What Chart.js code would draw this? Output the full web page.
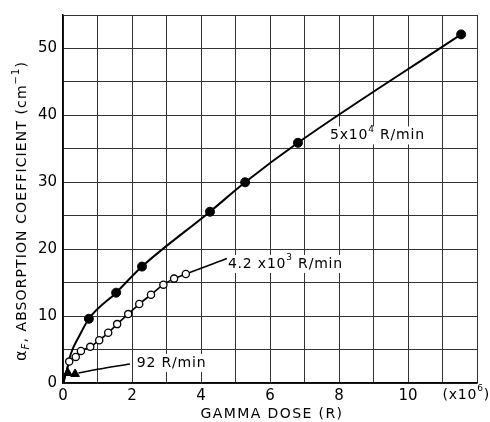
<!DOCTYPE html>
<html>
<head>
<meta charset="utf-8">
<script src="https://cdn.jsdelivr.net/npm/chart.js@4.4.1/dist/chart.umd.min.js"></script>
<style>
html, body { margin: 0; padding: 0; background: #fff; }
#wrap { width: 490px; height: 422px; }
</style>
</head>
<body>
<div id="wrap"><canvas id="myChart" width="490" height="422"></canvas></div>
<script>
// 5x10^4 R/min, filled circles
const doseHigh = [0.75, 1.54, 2.29, 4.26, 5.28, 6.81, 11.54];
const alphaHigh = [9.6, 13.5, 17.4, 25.6, 30.0, 35.9, 52.1];
// 4.2x10^3 R/min, open circles
const doseMid = [0.18, 0.37, 0.52, 0.79, 1.05, 1.31, 1.57, 1.89, 2.21, 2.55, 2.91, 3.22, 3.56];
const alphaMid = [3.2, 3.9, 4.8, 5.4, 6.4, 7.5, 8.8, 10.3, 11.8, 13.2, 14.7, 15.6, 16.3];
// 92 R/min, triangles
const doseLow = [0.14, 0.35];
const alphaLow = [1.5, 1.35];

// hand drawn curves
const curveHighX = [0, 0.04, 0.11, 0.23, 0.49, 0.75, 1.54, 2.29, 4.26, 5.28, 6.81, 11.54];
const curveHighY = [0, 0.8, 1.9, 4.4, 7.2, 9.6, 13.5, 17.4, 25.6, 30.0, 35.9, 52.1];
const curveMidX = [0.02, 0.18, 0.37, 0.52, 0.79, 1.05, 1.31, 1.57, 1.89, 2.21, 2.55, 2.91, 3.22, 3.56, 4.75];
const curveMidY = [0, 3.2, 3.9, 4.8, 5.4, 6.4, 7.5, 8.8, 10.3, 11.8, 13.2, 14.7, 15.6, 16.3, 18.6];
const leaderLowX = [0.45, 1.0, 1.94];
const leaderLowY = [1.5, 2.05, 2.85];

const xTicks = [0, 2, 4, 6, 8, 10];
const yTicks = [0, 10, 20, 30, 40, 50];

const pts = (xs, ys) => xs.map((x, i) => ({ x: x, y: ys[i] }));
const FONT = 'DejaVu Sans';

// text labels placed in data units
const notes = [
    { text: '5x10', sup: '4', rest: ' R/min', x: 7.74, y: 37.0 },
    { text: '4.2 x10', sup: '3', rest: ' R/min', x: 4.78, y: 17.8 },
    { text: '92 R/min', sup: '', rest: '', x: 2.14, y: 3.0 }
];

function drawParts(ctx, parts, x, y) {
    // parts: [text, size, dy, italic]
    let cx = x;
    parts.forEach(p => {
        ctx.font = (p[3] ? 'italic ' : '') + p[1] + 'px "' + FONT + '"';
        ctx.fillText(p[0], cx, y + p[2]);
        cx += ctx.measureText(p[0]).width;
    });
    return cx - x;
}
function widthParts(ctx, parts) {
    let w = 0;
    parts.forEach(p => {
        ctx.font = (p[3] ? 'italic ' : '') + p[1] + 'px "' + FONT + '"';
        w += ctx.measureText(p[0]).width;
    });
    return w;
}

const labelsPlugin = {
    id: 'labels',
    beforeDatasetsDraw(chart) {
        const ctx = chart.ctx;
        const xs = chart.scales.x, ys = chart.scales.y;
        ctx.save();
        ctx.textBaseline = 'middle';
        ctx.letterSpacing = '0.8px';
        notes.forEach(n => {
            const parts = [[n.text, 14, 0]];
            if (n.sup) parts.push([n.sup, 9, -6]);
            if (n.rest) parts.push([n.rest, 14, 0]);
            const px = xs.getPixelForValue(n.x);
            const py = ys.getPixelForValue(n.y);
            const w = widthParts(ctx, parts);
            ctx.fillStyle = '#fff';
            ctx.fillRect(px - 2, py - 9, w + 4, 18);
            ctx.fillStyle = '#000';
            drawParts(ctx, parts, px, py);
        });
        ctx.restore();
    },
    afterDraw(chart) {
        const ctx = chart.ctx;
        const area = chart.chartArea;
        ctx.save();
        ctx.fillStyle = '#000';
        ctx.textBaseline = 'middle';
        // x multiplier
        ctx.letterSpacing = '0.8px';
        const mult = [['(x10', 14, 0], ['6', 9, -6], [')', 14, 0]];
        const mw = widthParts(ctx, mult);
        drawParts(ctx, mult, 490 - mw, 395);
        // x title
        ctx.letterSpacing = '1.4px';
        ctx.font = '14px "' + FONT + '"';
        ctx.textAlign = 'center';
        ctx.fillText('GAMMA DOSE (R)', (area.left + area.right) / 2 + 2, 414);
        ctx.textAlign = 'left';
        // y title, rotated
        ctx.letterSpacing = '1.1px';
        const yt = [['\u03b1', 16, 0], ['F', 10, 4, true], [', ABSORPTION COEFFICIENT (cm', 14, 0], ['\u22121', 10, -6], [')', 14, 0]];
        const yw = widthParts(ctx, yt);
        ctx.translate(22, 211);
        ctx.rotate(-Math.PI / 2);
        drawParts(ctx, yt, -yw / 2, 0);
        ctx.restore();
    }
};

const data = {
    datasets: [
        {
            label: '5x10^4 R/min',
            data: pts(doseHigh, alphaHigh),
            pointStyle: 'circle',
            pointRadius: 4.5,
            backgroundColor: '#000',
            borderColor: '#000',
            order: 0
        },
        {
            label: '4.2x10^3 R/min',
            data: pts(doseMid, alphaMid),
            pointStyle: 'circle',
            pointRadius: 3.6,
            pointBorderWidth: 1.3,
            backgroundColor: '#fff',
            borderColor: '#000',
            order: 0
        },
        {
            label: '92 R/min',
            data: pts(doseLow, alphaLow),
            pointStyle: 'triangle',
            pointRadius: 5,
            backgroundColor: '#000',
            borderColor: '#000',
            order: 0
        },
        {
            label: 'fit high',
            data: pts(curveHighX, curveHighY),
            showLine: true,
            pointRadius: 0,
            borderColor: '#000',
            borderWidth: 2,
            cubicInterpolationMode: 'monotone',
            order: 1
        },
        {
            label: 'fit mid',
            data: pts(curveMidX, curveMidY),
            showLine: true,
            pointRadius: 0,
            borderColor: '#000',
            borderWidth: 1.6,
            cubicInterpolationMode: 'monotone',
            order: 1
        },
        {
            label: 'leader low',
            data: pts(leaderLowX, leaderLowY),
            showLine: true,
            pointRadius: 0,
            borderColor: '#000',
            borderWidth: 1.6,
            cubicInterpolationMode: 'monotone',
            order: 1
        }
    ]
};

const config = {
    type: 'scatter',
    data: data,
    options: {
        responsive: false,
        animation: false,
        events: [],
        layout: { padding: { top: 15, right: 13, left: 0, bottom: 0 } },
        plugins: { legend: { display: false }, tooltip: { enabled: false } },
        scales: {
            x: {
                type: 'linear',
                min: 0,
                max: 12,
                afterFit: s => { s.height = 39; },
                ticks: {
                    stepSize: 1,
                    autoSkip: false,
                    maxRotation: 0,
                    padding: 4,
                    color: '#000',
                    font: { family: FONT, size: 15 },
                    callback: v => xTicks.includes(v) ? String(v) : ''
                },
                grid: { color: '#333', lineWidth: 1, drawTicks: false },
                border: { color: '#000', width: 1.5 }
            },
            y: {
                min: 0,
                max: 55,
                afterFit: s => { s.width = 63; },
                ticks: {
                    stepSize: 5,
                    autoSkip: false,
                    padding: 6,
                    color: '#000',
                    font: { family: FONT, size: 15 },
                    callback: v => yTicks.includes(v) ? String(v) : ''
                },
                grid: { color: '#333', lineWidth: 1, drawTicks: false },
                border: { color: '#000', width: 1.5 }
            }
        }
    },
    plugins: [labelsPlugin]
};

const myChart = new Chart(document.getElementById('myChart'), config);
</script>
</body>
</html>
